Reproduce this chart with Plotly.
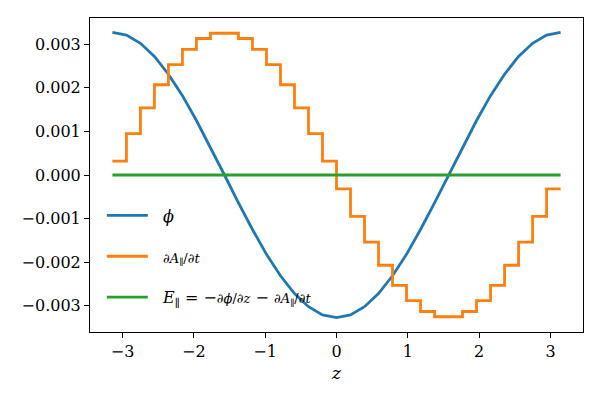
import plotly.graph_objs as go

# grid in z, 33 points from -pi to pi
z = [-3.1416, -2.9452, -2.7489, -2.5525, -2.3562, -2.1598, -1.9635, -1.7671,
     -1.5708, -1.3744, -1.1781, -0.9817, -0.7854, -0.5890, -0.3927, -0.1963,
     0.0, 0.1963, 0.3927, 0.5890, 0.7854, 0.9817, 1.1781, 1.3744,
     1.5708, 1.7671, 1.9635, 2.1598, 2.3562, 2.5525, 2.7489, 2.9452, 3.1416]

# phi (blue line)
phi = [0.00327, 0.00321, 0.00302, 0.00272, 0.00231, 0.00182, 0.00125, 0.00064,
       0.0, -0.00064, -0.00125, -0.00182, -0.00231, -0.00272, -0.00302, -0.00321,
       -0.00327, -0.00321, -0.00302, -0.00272, -0.00231, -0.00182, -0.00125, -0.00064,
       0.0, 0.00064, 0.00125, 0.00182, 0.00231, 0.00272, 0.00302, 0.00321, 0.00327]

# dA/dt (orange steps, value held until next z)
dadt = [0.00032, 0.00095, 0.00154, 0.00207, 0.00253, 0.00288, 0.00313, 0.00325,
        0.00325, 0.00313, 0.00288, 0.00253, 0.00207, 0.00154, 0.00095, 0.00032,
        -0.00032, -0.00095, -0.00154, -0.00207, -0.00253, -0.00288, -0.00313, -0.00325,
        -0.00325, -0.00313, -0.00288, -0.00253, -0.00207, -0.00154, -0.00095, -0.00032,
        -0.00032]

# E parallel (green)
epar = [0.0] * 33

xticks = [-3, -2, -1, 0, 1, 2, 3]
yticks = [-0.003, -0.002, -0.001, 0.0, 0.001, 0.002, 0.003]

SERIF = "DejaVu Serif"
frac = '<span style="font-size:13px">%s</span>'
pad = "&nbsp;&nbsp;"

fig = go.Figure()
fig.add_trace(go.Scatter(x=z, y=phi, mode="lines", name=pad + "<i>ϕ</i>",
                         legendgroup="a",
                         line=dict(color="#1f77b4", width=2.8)))
fig.add_trace(go.Scatter(x=z, y=dadt, mode="lines",
                         name=pad + frac % "∂<i>A</i><sub>∥</sub>/∂<i>t</i>",
                         legendgroup="b",
                         line=dict(color="#ff7f0e", width=2.8, shape="hv")))
fig.add_trace(go.Scatter(x=z, y=epar, mode="lines",
                         name=pad + "<i>E</i><sub>∥</sub> = −" + frac % "∂<i>ϕ</i>/∂<i>z</i>"
                              + " − " + frac % "∂<i>A</i><sub>∥</sub>/∂<i>t</i>",
                         legendgroup="c",
                         line=dict(color="#2ca02c", width=2.8)))

axis_style = dict(showline=True, linecolor="black", linewidth=1, mirror=True,
                  ticks="outside", ticklen=5, tickwidth=1, tickcolor="black",
                  showgrid=False, zeroline=False, automargin=False,
                  tickfont=dict(family=SERIF, size=16, color="black"))

# page body has an 8px margin, so the figure is 8px smaller than the window
fig.update_layout(
    width=592, height=392,
    margin=dict(l=82, r=17, t=10, b=68),
    plot_bgcolor="white", paper_bgcolor="white",
    font=dict(family=SERIF, size=16, color="black"),
    xaxis=dict(range=[-3.456, 3.456], tickvals=xticks,
               title=dict(text="<i>z</i>", standoff=6,
                          font=dict(family=SERIF, size=17)), **axis_style),
    yaxis=dict(range=[-0.0036, 0.0036], tickvals=yticks, tickformat=".3f",
               **axis_style),
    legend=dict(x=0.024, y=0.425, xanchor="left", yanchor="top",
                bgcolor="rgba(0,0,0,0)", borderwidth=0,
                tracegroupgap=17, itemwidth=41,
                font=dict(family=SERIF, size=16)),
)

fig.write_html("out.html")
